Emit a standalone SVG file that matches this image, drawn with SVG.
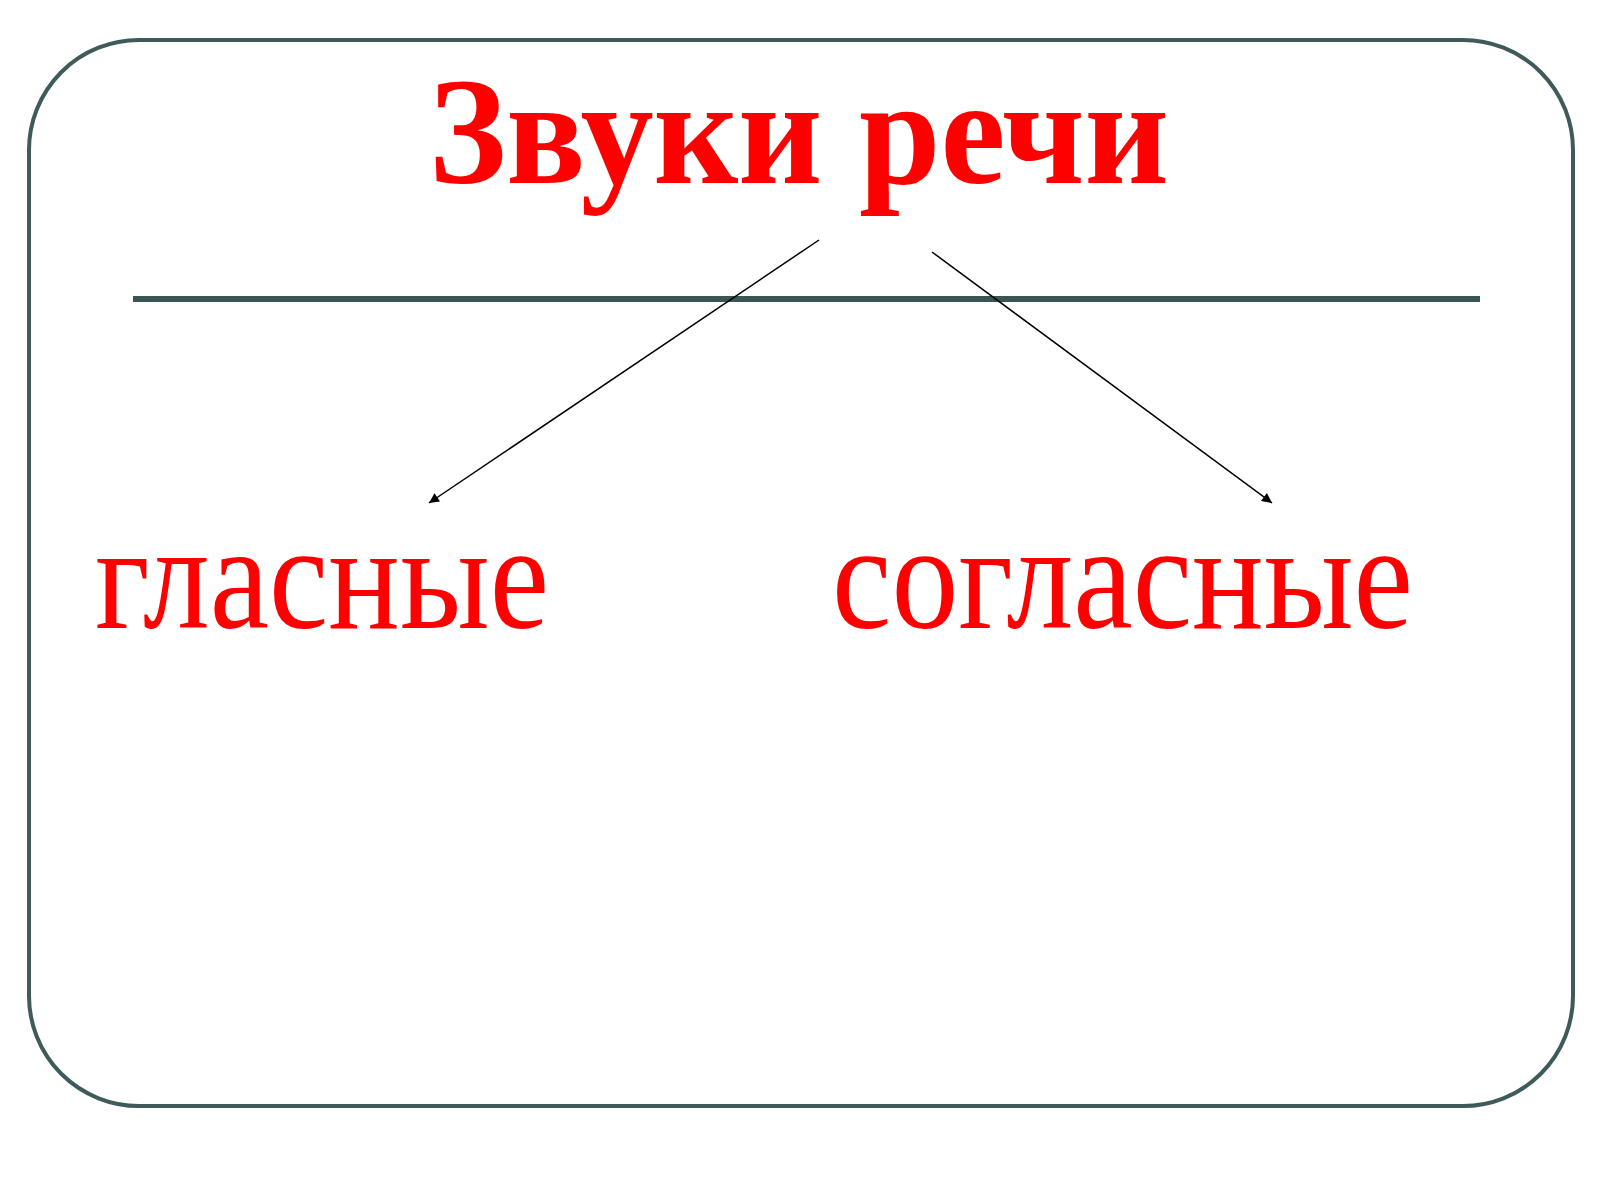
<svg xmlns="http://www.w3.org/2000/svg" width="1600" height="1200" viewBox="0 0 1600 1200">
<style>
.frame{fill:#ffffff;stroke:#3f5a5a;stroke-width:4}
.rule{stroke:#3a5654;stroke-width:6}
.title{font-family:"Liberation Serif","Times New Roman",serif;font-weight:bold;font-size:152px;fill:#ff0000}
.word{font-family:"Liberation Serif","Times New Roman",serif;font-size:150px;fill:#ff0000}
.conn{stroke:#000000;stroke-width:1.5;fill:none;marker-end:url(#arr)}
</style>
<defs>
<marker id="arr" viewBox="0 0 10 10" refX="10" refY="5" markerWidth="11" markerHeight="10" markerUnits="userSpaceOnUse" orient="auto">
<path d="M0,0 L10,5 L0,10 z" fill="#000000"/>
</marker>
</defs>
<rect width="1600" height="1200" fill="#ffffff"/>
<g id="frame"><rect class="frame" x="29" y="40" width="1544" height="1066" rx="110" ry="110"/></g>
<g id="title"><text class="title" x="429" y="183" textLength="740" lengthAdjust="spacingAndGlyphs">Звуки речи</text></g>
<g id="rule"><line class="rule" x1="133" y1="299" x2="1480" y2="299"/></g>
<g id="vowels"><text class="word" x="95" y="628" textLength="454" lengthAdjust="spacingAndGlyphs">гласные</text></g>
<g id="consonants"><text class="word" x="832" y="628" textLength="581" lengthAdjust="spacingAndGlyphs">согласные</text></g>
<g id="connectors">
<line class="conn" x1="819" y1="240" x2="429" y2="503"/>
<line class="conn" x1="932" y1="252" x2="1272" y2="503"/>
</g>
</svg>
